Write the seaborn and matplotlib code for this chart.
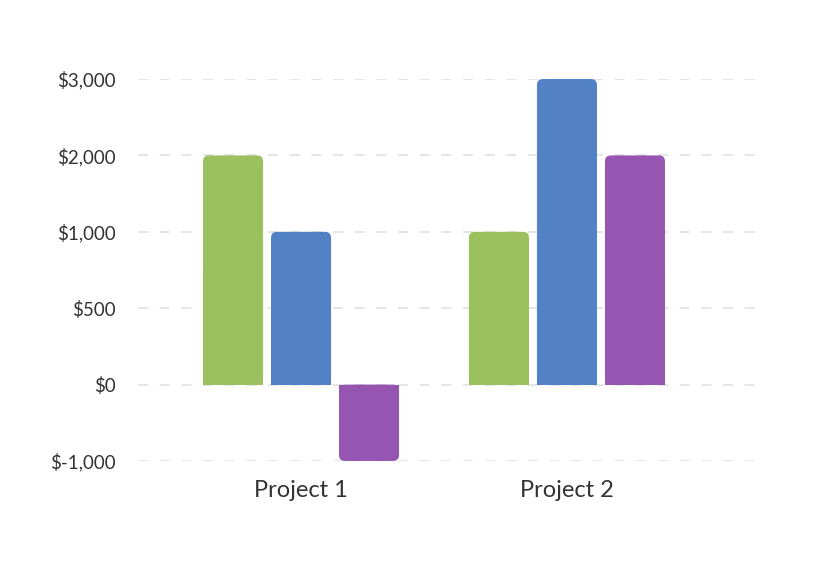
import numpy as np
import pandas as pd
import matplotlib
matplotlib.use("Agg")
import matplotlib.pyplot as plt
from matplotlib.patches import FancyBboxPatch, Rectangle
from matplotlib.transforms import IdentityTransform
import seaborn as sns

# data
projects = ["Project 1", "Project 2"]
series = ["Series 1", "Series 2", "Series 3"]
series_1 = [2000, 1000]
series_2 = [1000, 3000]
series_3 = [-1000, 2000]
tick_values = [-1000, 0, 500, 1000, 2000, 3000]
tick_labels = ["$-1,000", "$0", "$500", "$1,000", "$2,000", "$3,000"]
colours = ["#9bc15f", "#5282c5", "#9655b0"]

df = pd.DataFrame({
    "project": projects * 3,
    "series": np.repeat(series, len(projects)),
    "value": series_1 + series_2 + series_3,
})

sns.set_theme(style="white")
plt.rcParams["font.family"] = ["Lato", "DejaVu Sans"]

fig = plt.figure(figsize=(8.2, 5.76), dpi=100)
ax = fig.add_axes([0.1683, 0.1997, 0.7524, 0.6631])

sns.barplot(data=df, x="project", y="value", hue="series", palette=colours,
            width=0.767, gap=0.117, legend=False, saturation=1, ax=ax)

# evenly spaced ticks -> piecewise linear y scale
idx = np.arange(len(tick_values))
ax.set_yscale("function", functions=(lambda v: np.interp(v, tick_values, idx),
                                     lambda t: np.interp(t, idx, tick_values)))
ax.set_ylim(tick_values[0], tick_values[-1])
ax.set_xlim(-0.613, 1.707)
ax.set_yticks(tick_values)
ax.set_yticklabels(tick_labels)
ax.set_xlabel("")
ax.set_ylabel("")

ax.set_axisbelow(True)
ax.yaxis.grid(True, color="#e0e0e0", linewidth=1.2, linestyle=(0, (6, 7)))
ax.xaxis.grid(False)
sns.despine(ax=ax, left=True, bottom=True)
ax.tick_params(axis="y", length=0, pad=16, labelsize=13.5, labelcolor="#333333")
ax.tick_params(axis="x", length=0, pad=14, labelsize=17, labelcolor="#333333")

# rounded corners on the outer end of every bar
radius = 6
for p in list(ax.patches):
    (xa, ya) = ax.transData.transform((p.get_x(), p.get_y()))
    (xb, yb) = ax.transData.transform((p.get_x() + p.get_width(), p.get_y() + p.get_height()))
    x0, x1 = min(xa, xb), max(xa, xb)
    y0, y1 = min(ya, yb), max(ya, yb)
    if abs(y1 - y0) < 1:
        continue
    colour = p.get_facecolor()
    rounded = FancyBboxPatch((x0, y0), x1 - x0, y1 - y0,
                             boxstyle=f"round,pad=0,rounding_size={radius}",
                             transform=IdentityTransform(), facecolor=colour,
                             edgecolor="none", zorder=2, clip_on=False)
    ax.add_patch(rounded)
    ymid = (y0 + y1) / 2
    if p.get_height() >= 0:
        square = Rectangle((x0, y0), x1 - x0, ymid - y0)
    else:
        square = Rectangle((x0, ymid), x1 - x0, y1 - ymid)
    square.set(transform=IdentityTransform(), facecolor=colour, edgecolor="none",
               zorder=2, clip_on=False)
    ax.add_patch(square)
    p.remove()

fig.savefig("out.png", dpi=100)
